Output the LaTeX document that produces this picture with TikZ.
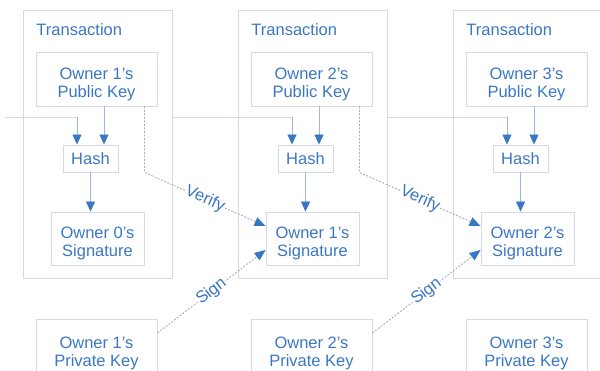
\documentclass[tikz,border=0pt]{standalone}
\usepackage{fontspec}
\setmainfont{Liberation Sans}
\usetikzlibrary{arrows.meta, positioning, calc}
\definecolor{KeyBlue}{HTML}{3A77C2}
\definecolor{BoxLine}{HTML}{D3D8EC}
\definecolor{FlowLine}{HTML}{9DB8E0}
\definecolor{DotLine}{HTML}{A7AEBE}
% strut for the first line of the two-line boxes
\newcommand\topstrut{\rule{0pt}{22pt}}

\tikzset{
  box/.style={draw=BoxLine, line width=0.9pt, text=KeyBlue, align=center,
              inner sep=0pt, font=\fontsize{16.5}{18}\selectfont},
  keybox/.style={box, minimum width=121pt, minimum height=54pt},
  hashbox/.style={box, minimum width=55pt, minimum height=27pt},
  sigbox/.style={box, minimum width=93pt, minimum height=53pt},
  txbox/.style={draw=BoxLine, line width=0.9pt, minimum width=149pt, minimum height=268pt},
  rail/.style={draw=BoxLine, line width=0.9pt},
  flow/.style={draw=FlowLine, line width=0.9pt,
               -{Triangle[length=10pt, width=9pt, color=KeyBlue]}},
  vlink/.style={draw=DotLine, line width=0.9pt, dash pattern=on 2pt off 1.5pt,
                -{Triangle[length=11pt, width=9pt, color=KeyBlue]}},
  linklabel/.style={sloped, fill=white, text=KeyBlue, inner sep=1pt,
                    font=\fontsize{16.5}{18}\selectfont}
}

\begin{document}
\begin{tikzpicture}[x=1pt, y=-1pt]
  \useasboundingbox (0,0) rectangle (600,371);

  % one column per transaction
  \foreach \i/\j/\x in {1/0/0, 2/1/215, 3/2/430} {
    \node[txbox] (tx\i) at (97.5+\x, 144) {};
    \node[box, draw=none, anchor=west] (ttl\i) at (36+\x, 30) {Transaction};
    \node[keybox] (pub\i) at (96.5+\x, 79) {\topstrut Owner \i's\\Public Key};
    \node[hashbox] (hash\i) at (90.5+\x, 158.5) {Hash};
    \node[sigbox] (sig\i) at (97.5+\x, 238.5) {\topstrut Owner \j's\\Signature};
    \node[keybox, minimum height=58pt] (priv\i) at (96.5+\x, 348) {\topstrut Owner \i's\\Private Key};
    \coordinate (in\i) at ($(hash\i.north)+(-13.5,0)$);
    \coordinate (pk\i) at ($(hash\i.north)+(13.5,0)$);
  }

  % previous transaction feeding each hash
  \coordinate (railL) at (5,117);
  \draw[rail] (railL) -- (in1 |- railL);
  \draw[rail] (tx1.east |- railL) -- (in2 |- railL);
  \draw[rail] (tx2.east |- railL) -- (in3 |- railL);

  \foreach \i in {1,2,3} {
    \draw[flow] (in\i |- railL) -- (in\i);
    \draw[flow] (pk\i |- pub\i.south) -- (pk\i);
    \draw[flow] (hash\i.south) -- (hash\i.south |- sig\i.north);
  }

  % verify / sign links
  \foreach \i/\k in {1/2, 2/3} {
    \draw[vlink] ([xshift=-13pt]pub\i.south east) -- ++(0,66)
      -- node[linklabel] {Verify} ([yshift=12.5pt]sig\k.west);
    \draw[vlink] ([yshift=15pt]priv\i.east)
      -- node[linklabel] {Sign} ([yshift=-11.5pt]sig\k.west);
  }
\end{tikzpicture}
\end{document}
